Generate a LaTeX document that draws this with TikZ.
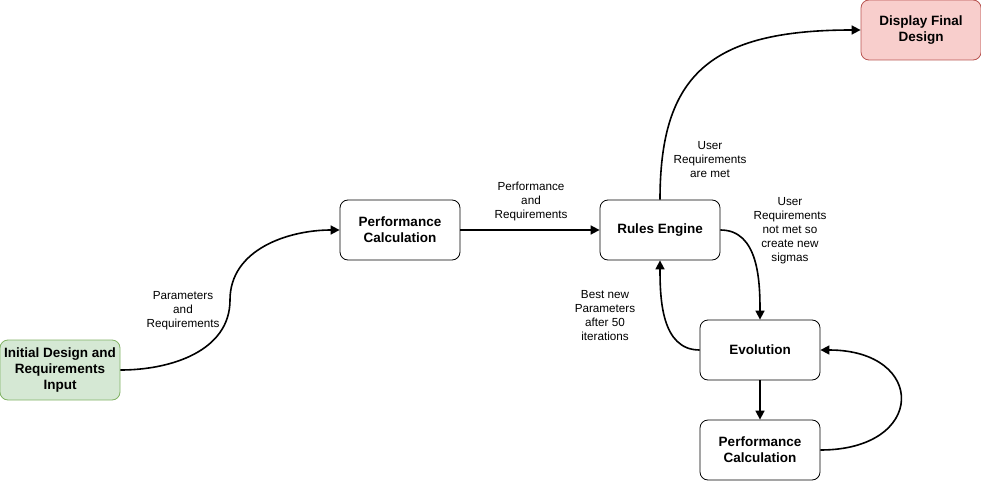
\documentclass[tikz,border=0pt]{standalone}
\usepackage{fontspec}
\setmainfont{Liberation Sans}
\usetikzlibrary{shapes,arrows.meta}
\definecolor{startfill}{HTML}{D5E8D4}
\definecolor{startline}{HTML}{82B366}
\definecolor{endfill}{HTML}{F8CECC}
\definecolor{endline}{HTML}{B85450}
\newcommand{\boxfont}{\fontsize{13.5}{16}\selectfont\bfseries}
\newcommand{\labelfont}{\fontsize{11.7}{14}\selectfont}
\tikzset{
  procbox/.style  = {draw, rounded corners=8pt, line width=0.8pt,
                     minimum width=120pt, minimum height=60pt,
                     inner sep=0pt, align=center, font=\boxfont},
  startbox/.style = {procbox, draw=startline, fill=startfill},
  endbox/.style   = {procbox, draw=endline, fill=endfill},
  edgelabel/.style = {align=center, inner sep=0pt, font=\labelfont},
}

\begin{document}
\begin{tikzpicture}[x=1pt, y=-1pt]
  \useasboundingbox (0,0) rectangle (981,481);
  \node[startbox] (init)     at (60,370)  {Initial Design and\\Requirements\\Input};
  \node[procbox]  (perf)     at (400,230) {Performance\\Calculation};
  \node[procbox]  (rules)    at (660,230) {Rules Engine};
  \node[endbox]   (final)    at (921,30)  {Display Final\\Design};
  \node[procbox]  (evo)      at (760,350) {Evolution};
  \node[procbox]  (perfloop) at (760,450) {Performance\\Calculation};
  \coordinate (bend) at (230,300);
  % labels
  \node[edgelabel] (lparams) at (183,311) {Parameters\\and\\Requirements};
  \node[edgelabel] (lperf)   at (531,201) {Performance\\and\\Requirements};
  \node[edgelabel] (lmet)    at (710,160) {User\\Requirements\\are met};
  \node[edgelabel] (lnotmet) at (790,231) {User\\Requirements\\not met so\\create new\\sigmas};
  \node[edgelabel] (lbest)   at (605,316) {Best new\\Parameters\\after 50\\iterations};
  \tikzstyle{EdgeStyle}=[line width=1.6pt, -{Triangle[length=9pt,width=9pt]}]
  \draw[EdgeStyle] (init.east) to[out=0, in=-90] (bend) to[out=90, in=180] (perf.west);
  \draw[EdgeStyle] (perf) -- (rules);
  \draw[EdgeStyle] (rules.north) .. controls (660,75) and (710,30) .. (final.west);
  \draw[EdgeStyle] (rules.east) to[out=0, in=90] (evo.north);
  \draw[EdgeStyle] (evo.west) to[out=180, in=-90] (rules.south);
  \draw[EdgeStyle] (evo) -- (perfloop);
  \draw[EdgeStyle] (perfloop.east) .. controls (927,450) and (927,350) .. (evo.east);
\end{tikzpicture}
\end{document}
